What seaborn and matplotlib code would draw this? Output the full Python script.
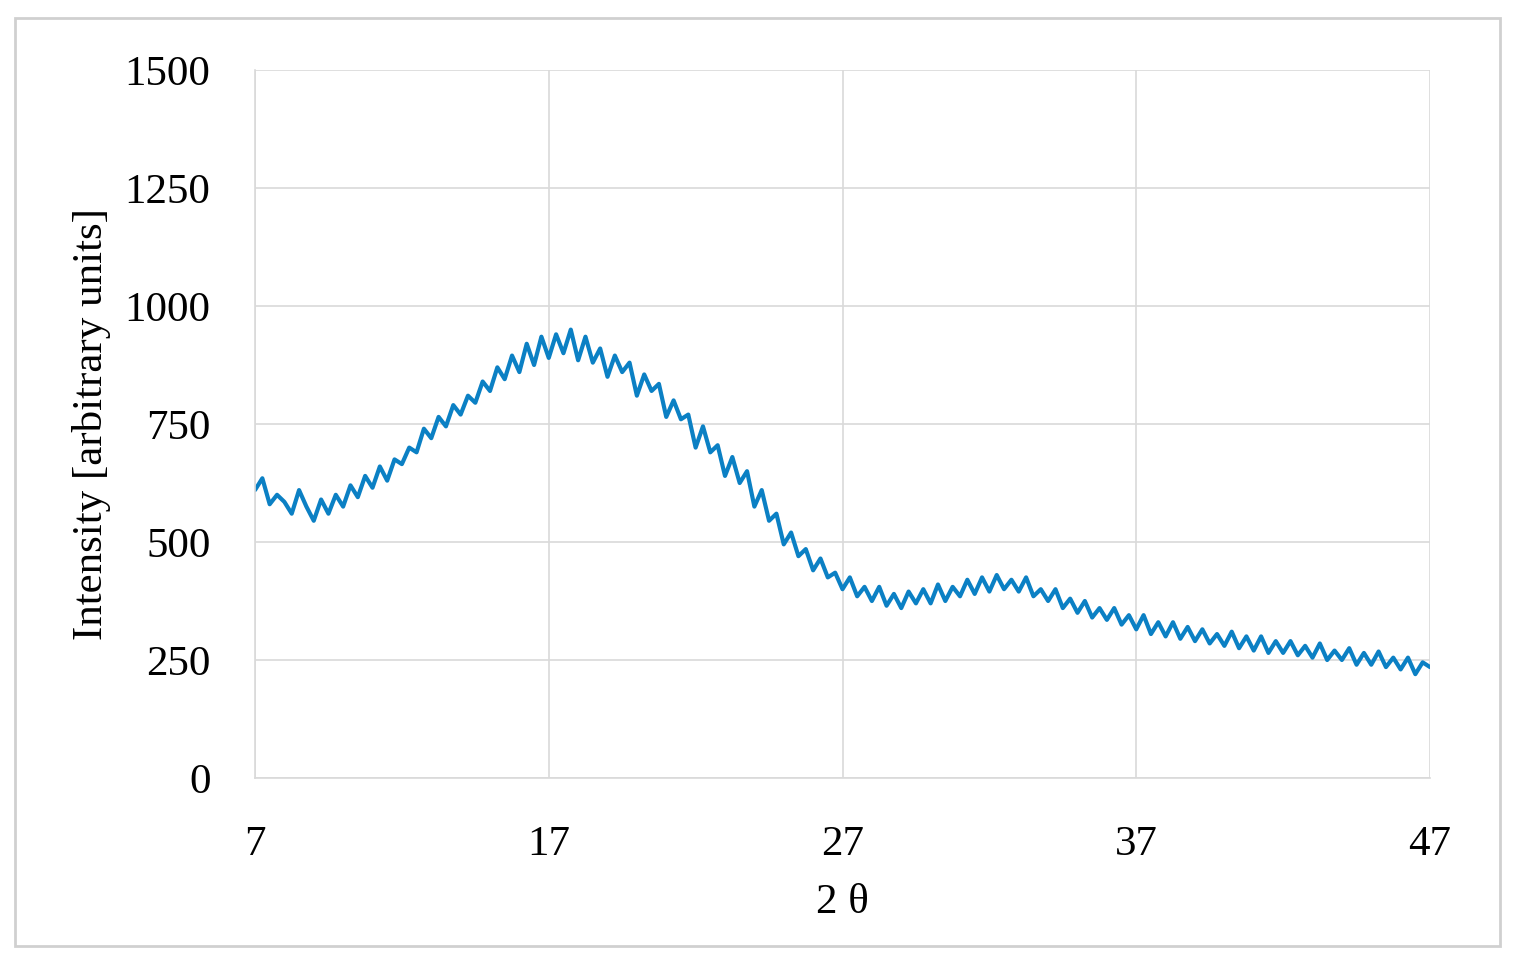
import matplotlib
matplotlib.use("Agg")
import matplotlib.pyplot as plt
import seaborn as sns
import numpy as np
import pandas as pd
from matplotlib.patches import Rectangle

two_theta = np.arange(7, 47.01, 0.25)
intensity = [
610, 635, 580, 600, 585, 560, 610, 575, 545, 590, 560, 600, 575, 620, 595, 640,
615, 660, 630, 675, 665, 700, 690, 740, 720, 765, 745, 790, 770, 810, 795, 840,
820, 870, 845, 895, 860, 920, 875, 935, 890, 940, 900, 950, 885, 935, 880, 910,
850, 895, 860, 880, 810, 855, 820, 835, 765, 800, 760, 770, 700, 745, 690, 705,
640, 680, 625, 650, 575, 610, 545, 560, 495, 520, 470, 485, 440, 465, 425, 435,
400, 425, 385, 405, 375, 405, 365, 390, 360, 395, 370, 400, 370, 410, 375, 405,
385, 420, 390, 425, 395, 430, 400, 420, 395, 425, 385, 400, 375, 400, 360, 380,
350, 375, 340, 360, 335, 360, 325, 345, 315, 345, 305, 330, 300, 330, 295, 320,
290, 315, 285, 305, 280, 310, 275, 300, 270, 300, 265, 290, 265, 290, 260, 280,
255, 285, 250, 270, 250, 275, 240, 265, 240, 268, 235, 255, 230, 255, 220, 245,
235]
x_ticks = [7, 17, 27, 37, 47]
y_ticks = [0, 250, 500, 750, 1000, 1250, 1500]

df = pd.DataFrame({"x": two_theta, "y": intensity})

sns.set_style("white")
plt.rcParams['font.family'] = ['Liberation Serif', 'DejaVu Serif']
fig = plt.figure(figsize=(15.15, 9.64), dpi=100)
ax = fig.add_axes([255/1515, 1-778/964, (1430-255)/1515, (778-70)/964])
sns.lineplot(data=df, x="x", y="y", ax=ax, color="#0b80c4", linewidth=3)
ax.set_xlim(7, 47)
ax.set_ylim(0, 1500)
ax.set_xticks(x_ticks)
ax.set_yticks(y_ticks)
ax.grid(True, color="#d9d9d9", linewidth=1.2)
ax.tick_params(axis='both', length=0, labelsize=31, labelcolor="black")
ax.tick_params(axis='x', pad=34)
ax.tick_params(axis='y', pad=32)
for s in ["top", "right"]:
    ax.spines[s].set_visible(False)
for s in ["left", "bottom"]:
    ax.spines[s].set_color("#d9d9d9")
    ax.spines[s].set_linewidth(1.2)
ax.set_xlabel("2 θ", fontsize=31, labelpad=14, color="black")
ax.set_ylabel("Intensity [arbitrary units]", fontsize=31, labelpad=10, color="black")
fig.patches.append(Rectangle((15/1515, 18/964), 1485/1515, 928/964, transform=fig.transFigure,
                             fill=False, edgecolor="#d0d0d0", linewidth=2))
fig.savefig("out.png", dpi=100)
